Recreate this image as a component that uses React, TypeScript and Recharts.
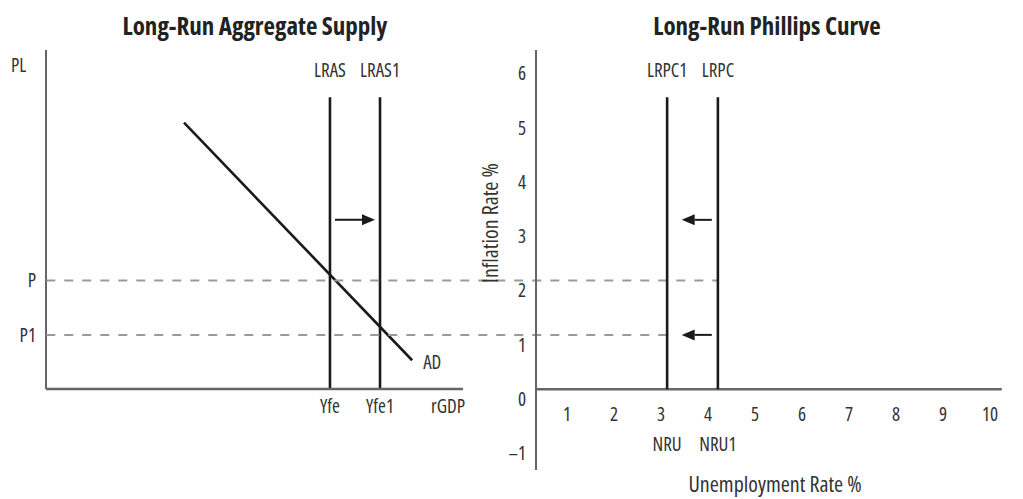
import React from 'react';
import {
  ComposedChart,
  Line,
  XAxis,
  YAxis,
  ReferenceLine,
  ReferenceDot,
  Label,
} from 'recharts';

const FONT = "'Open Sans', 'DejaVu Sans Condensed', sans-serif";
const TEXT = '#333';
const INK = '#1a1a1a';
const AXIS = '#666';
const GUIDE = '#9a9a9a';

// Long-Run Aggregate Supply (left panel)
const asXDomain = [0, 10];
const asYDomain = [0, 6.25];
const asXTicks = [6.81, 8.01];
const asXTickLabels = ['Yfe', 'Yfe1'];
const asYTicks = [2, 1];
const asYTickLabels = ['P', 'P1'];
const lrasX = 6.81;
const lras1X = 8.01;
const lrasTop = 5.38;
const adCurve = [
  { q: 3.31, pl: 4.91 },
  { q: 8.78, pl: 0.53 },
];
const asShift = [
  { x: 6.93, y: 3.12 },
  { x: 7.89, y: 3.12 },
];

// Long-Run Phillips Curve (right panel)
const pcXDomain = [0, 10];
const pcYDomain = [-1.49, 6.25];
const unempTicks = [1, 2, 3, 4, 5, 6, 7, 8, 9, 10];
const inflTicks = [-1, 0, 1, 2, 3, 4, 5, 6];
const lrpc1 = [
  { u: 2.79, infl: 0 },
  { u: 2.79, infl: 5.38 },
];
const lrpc = [
  { u: 3.87, infl: 0 },
  { u: 3.87, infl: 5.38 },
];
const pcAxisEnd = 9.91;
const guideStartX = -10.42; // P / P1 guides start at the PL axis
const pcShiftYs = [3.12, 1];
const pcShiftFrom = 3.74;
const pcShiftTo = 3.1;

// arrow drawn from the reference line's pixel ends
const Arrow = (p: any) => {
  const { x1, y1, x2, y2 } = p;
  const dir = Math.sign(x2 - x1);
  const head = 13;
  return (
    <g>
      <line x1={x1} y1={y1} x2={x2 - dir * head} y2={y2} stroke={INK} strokeWidth={2} />
      <polygon
        points={`${x2},${y2} ${x2 - dir * head},${y2 - 5.5} ${x2 - dir * head},${y2 + 5.5}`}
        fill={INK}
      />
    </g>
  );
};

// name above the curve, NRU label below the axis
const curveLabel = (top: string, bottom: string) => (p: any) => {
  if (p.index === 1) {
    return (
      <text x={p.x} y={p.y - 20} textAnchor="middle" fill={TEXT} fontSize={19}>
        {top}
      </text>
    );
  }
  return (
    <text x={p.x} y={p.y + 62} textAnchor="middle" fill={TEXT} fontSize={19}>
      {bottom}
    </text>
  );
};

const titleStyle: React.CSSProperties = {
  position: 'absolute',
  top: 13,
  width: 500,
  textAlign: 'center',
  fontSize: 25,
  lineHeight: '25px',
  fontWeight: 'bold',
  color: '#222',
};

export default function App() {
  return (
    <div
      style={{
        position: 'absolute',
        left: 0,
        top: 0,
        width: 1023,
        height: 499,
        background: '#fff',
        fontFamily: FONT,
        fontStretch: '75%',
      }}
    >
      <div style={{ ...titleStyle, left: 5 }}>Long-Run Aggregate Supply</div>
      <div style={{ ...titleStyle, left: 517 }}>Long-Run Phillips Curve</div>

      {/* AD / LRAS */}
      <div style={{ position: 'absolute', left: 0, top: 0 }}>
        <ComposedChart width={500} height={499} margin={{ top: 50, right: 37, bottom: 70, left: 0 }}>
          <XAxis
            type="number"
            dataKey="q"
            domain={asXDomain}
            allowDataOverflow
            ticks={asXTicks}
            interval={0}
            tickFormatter={(_v: number, i: number) => asXTickLabels[i]}
            height={40}
            axisLine={{ stroke: AXIS, strokeWidth: 2.5 }}
            tickLine={false}
            tickSize={6}
            tickMargin={5}
            tick={{ fill: TEXT, fontSize: 19 }}
          >
            <Label value="rGDP" position="insideTopRight" offset={11} dx={13} fill={TEXT} fontSize={19} />
          </XAxis>
          <YAxis
            type="number"
            domain={asYDomain}
            allowDataOverflow
            ticks={asYTicks}
            interval={0}
            tickFormatter={(_v: number, i: number) => asYTickLabels[i]}
            width={46}
            axisLine={{ stroke: AXIS, strokeWidth: 2 }}
            tickLine={false}
            tickSize={6}
            tickMargin={4}
            tick={{ fill: TEXT, fontSize: 19 }}
          >
            <Label value="PL" position="insideTopLeft" offset={9} dx={2} fill={TEXT} fontSize={19} />
          </YAxis>
          <ReferenceLine
            segment={[{ x: lrasX, y: 0 }, { x: lrasX, y: lrasTop }]}
            stroke={INK}
            strokeWidth={2.6}
            ifOverflow="visible"
          >
            <Label value="LRAS" position="top" offset={20} fill={TEXT} fontSize={19} />
          </ReferenceLine>
          <ReferenceLine
            segment={[{ x: lras1X, y: 0 }, { x: lras1X, y: lrasTop }]}
            stroke={INK}
            strokeWidth={2.6}
            ifOverflow="visible"
          >
            <Label value="LRAS1" position="top" offset={20} fill={TEXT} fontSize={19} />
          </ReferenceLine>
          <ReferenceLine
            segment={[asShift[0], asShift[1]]}
            ifOverflow="visible"
            shape={Arrow}
          />
          <Line
            data={adCurve}
            dataKey="pl"
            stroke={INK}
            strokeWidth={2.6}
            dot={false}
            isAnimationActive={false}
          />
          <ReferenceDot
            x={adCurve[1].q}
            y={adCurve[1].pl}
            r={0}
            fill="none"
            stroke="none"
            ifOverflow="visible"
          >
            <Label value="AD" position="right" offset={11} dy={2} fill={TEXT} fontSize={19} />
          </ReferenceDot>
        </ComposedChart>
      </div>

      {/* Phillips curve, spans the full width so the guides can reach the PL axis */}
      <div style={{ position: 'absolute', left: 0, top: 0 }}>
        <ComposedChart width={1023} height={499} margin={{ top: 50, right: 17, bottom: 0, left: 486 }}>
          <XAxis
            type="number"
            dataKey="u"
            domain={pcXDomain}
            allowDataOverflow
            ticks={unempTicks}
            interval={0}
            height={29}
            axisLine={false}
            tickLine={false}
            tickSize={6}
            tickMargin={2}
            tick={{ fill: TEXT, fontSize: 19, dx: -16, dy: -70 }}
          >
            <Label value="Unemployment Rate %" position="center" dx={4} fill={TEXT} fontSize={22} />
          </XAxis>
          <YAxis
            type="number"
            domain={pcYDomain}
            allowDataOverflow
            ticks={inflTicks}
            interval={0}
            width={50}
            axisLine={{ stroke: AXIS, strokeWidth: 2 }}
            tickLine={false}
            tickSize={6}
            tickMargin={4}
            tick={{ fill: TEXT, fontSize: 19, dy: 10 }}
            tickFormatter={(v: number) => (v < 0 ? `\u2013${-v}` : String(v))}
          >
            <Label
              value="Inflation Rate %"
              angle={-90}
              position="insideLeft"
              offset={4}
              dy={23}
              fill={TEXT}
              fontSize={22}
            />
          </YAxis>
          <ReferenceLine
            segment={[{ x: 0, y: 0 }, { x: pcAxisEnd, y: 0 }]}
            stroke={AXIS}
            strokeWidth={2.5}
            ifOverflow="visible"
          />
          <ReferenceLine
            segment={[{ x: guideStartX, y: asYTicks[0] }, { x: lrpc[0].u, y: asYTicks[0] }]}
            stroke={GUIDE}
            strokeWidth={2}
            strokeDasharray="9 9"
            ifOverflow="visible"
          />
          <ReferenceLine
            segment={[{ x: guideStartX, y: asYTicks[1] }, { x: lrpc1[0].u, y: asYTicks[1] }]}
            stroke={GUIDE}
            strokeWidth={2}
            strokeDasharray="9 9"
            ifOverflow="visible"
          />
          <Line
            data={lrpc1}
            dataKey="infl"
            stroke={INK}
            strokeWidth={2.6}
            dot={false}
            label={curveLabel('LRPC1', 'NRU')}
            isAnimationActive={false}
          />
          <Line
            data={lrpc}
            dataKey="infl"
            stroke={INK}
            strokeWidth={2.6}
            dot={false}
            label={curveLabel('LRPC', 'NRU1')}
            isAnimationActive={false}
          />
          {pcShiftYs.map((y) => (
            <ReferenceLine
              key={y}
              segment={[{ x: pcShiftFrom, y }, { x: pcShiftTo, y }]}
              ifOverflow="visible"
              shape={Arrow}
            />
          ))}
        </ComposedChart>
      </div>
    </div>
  );
}
